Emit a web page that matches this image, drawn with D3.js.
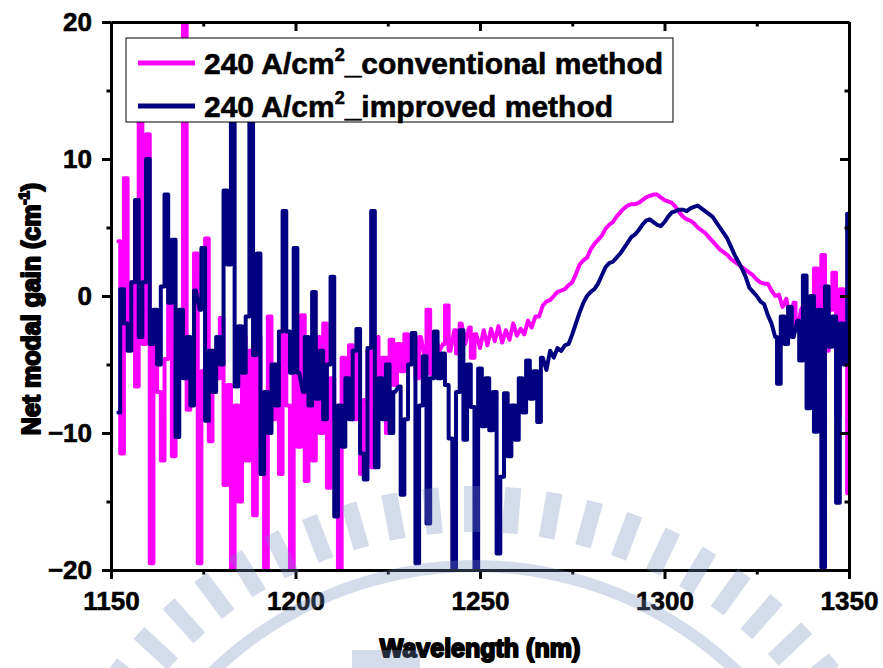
<!doctype html>
<html lang="en">
<head>
<meta charset="utf-8">
<script src="https://d3js.org/d3.v7.min.js"></script>
<title>Net modal gain</title>
<style>
    body { margin: 0; background: white; }
    svg { display: block; font-family: "Liberation Sans", Arial, sans-serif; font-weight: bold; }
</style>
</head>
<body>
<svg id="svg" width="883" height="668"></svg>
<script>
    // wavelength grid starts here, 1 nm step
    const startWl = 1152;

    // 240 A/cm2, conventional method
    const conventional = [
        4, -11.5, 8.6, -3, 1, -6.6, 16, -3.5, 11.8, -19.5,          // 1152-1161
        -3.5, -7, -12, -4.6, 0.9, -11.7, -3.5, -5, 20, -8.3,         // 1162-1171
        -4, 3.1, -19.5, -5.5, 4.2, -10.6, -4, -6, -1.6, -13.8,       // 1172-1181
        -6.5, -20, -8, -15, -3, -12, -4, -16, -3, -11,               // 1182-1191
        -20, -1.5, -9, -5, -13, -2.8, -8, -20, -4, -11,              // 1192-1201
        -1.4, -13.5, -6, -12, -3, -10, -2, -14, -6, -9,              // 1202-1211
        -20, -4.5, -7.5, -3.6, -9, -4, -13, -7.6, -4, -12.5,         // 1212-1221
        -3, -8, -4.5, -10, -3.2, -6.5, -3.5, -5.5, -2.8, -4.8,       // 1222-1231
        -3.5, -6, -3, -4.5, -1, -5.7, -3, -4, -3.5, -0.7,            // 1232-1241
        -4, -2.5, -4.2, -2, -3.5, -2.3, -4.5, -2.8, -3.8, -2.5,      // 1242-1251
        -3.6, -2.4, -3.3, -2.2, -3.4, -2.5, -3.2, -2, -2.9, -2.4,    // 1252-1261
        -2.8, -1.8, -2.3, -1.5, -1.5, -0.7, -0.4, -0.3, 0, 0.3,      // 1262-1271
        0.4, 0.5, 0.8, 1.0, 1.6, 2.3, 2.6, 2.8, 3.4, 3.8,            // 1272-1281
        4.1, 4.4, 4.9, 5.2, 5.4, 5.8, 6.1, 6.4, 6.6, 6.7,            // 1282-1291
        6.7, 6.8, 7.0, 7.2, 7.3, 7.4, 7.4, 7.2, 7.0, 6.9,            // 1292-1301
        6.8, 6.5, 6.1, 5.8, 5.6, 5.5, 5.3, 5.0, 4.8, 4.6,            // 1302-1311
        4.3, 4.0, 3.7, 3.4, 3.2, 3.0, 2.7, 2.5, 2.3, 2.1,            // 1312-1321
        1.9, 1.7, 1.5, 1.2, 1.0, 0.9, 0.9, 0.4, 0.0, 0.1,            // 1322-1331
        -0.8, -0.2, -1.5, -0.5, -2.5, -1, -0.5, -3, -1.5, 2,         // 1332-1341
        -3.5, 3, -4, -1, 1.7, -8.8, 0.5, -4, -14.4                   // 1342-1350
    ];

    // 240 A/cm2, improved method
    const improved = [
        -8.5, 0.5, -2, -4, 1, 7, -3, 1, 10, -3.5,                    // 1152-1161
        -1, -5, 0.7, 7.4, -0.5, 4.1, -10.3, -1, -6, -3,              // 1162-1171
        -8, 0.4, -1, 3.5, -9.1, -4, -7, -3, -5, 7.7,                 // 1172-1181
        2.3, 15, -6.6, -2.2, -5.6, -1.5, 15, -4.3, 3.1, -13,         // 1182-1191
        -7, -10, -5, -8, -2.6, 6.2, -2.6, -5.6, 3.5, -5.6,           // 1192-1201
        -7, -3, -8, 0.3, -7.5, -4, -9, -5, 1.4, -16.1,               // 1202-1211
        -8, -11, -6, -9, -4, -2.4, -11.5, -13.4, -3.8, 6.2,          // 1212-1221
        -12.5, -6, -9, -5, -10, -7, -6.6, -14.5, -9, -5,             // 1222-1231
        -2.7, -19.5, -8, -4.4, -16.6, -6, -2.6, -6, -4.2, -6.5,      // 1232-1241
        -10.4, -20, -7, -2.5, -10.5, -5, -8.1, -20, -5.3, -9.5,      // 1242-1251
        -6, -9.8, -7, -18.8, -13.2, -7.1, -11.7, -8, -10.5, -6,      // 1252-1261
        -8.5, -4.7, -7.5, -5.5, -9.2, -4.5, -5.4, -4, -4.5, -3.8,    // 1262-1271
        -4, -3.6, -3.5, -2.8, -2, -1.2, -0.5, 0, 0.3, 0.5,           // 1272-1281
        0.9, 1.5, 2.1, 2.4, 2.5, 2.8, 3.1, 3.5, 3.9, 4.3,            // 1282-1291
        4.5, 4.8, 5.2, 5.5, 5.6, 5.4, 5.2, 5.1, 5.4, 5.8,            // 1292-1301
        6.1, 6.2, 6.3, 6.3, 6.2, 6.4, 6.5, 6.6, 6.4, 6.2,            // 1302-1311
        6.0, 5.8, 5.4, 5.0, 4.6, 4.2, 3.6, 3.0, 2.5, 2.0,            // 1312-1321
        1.4, 0.6, 0.3, 0.0, -0.4, -0.6, -1.4, -2.0, -3.0, -6.4,      // 1322-1331
        -1.5, -3.5, -0.8, -3, -1.8, -4.7, 1.5, -8.2, 0, -9.9,        // 1332-1341
        -1, -19.8, 0.7, -3.7, -1.5, -15.1, -2, -5, 6                 // 1342-1350
    ];

    const seriesNames = ["240 A/cm", "240 A/cm"];
    const seriesSuffix = ["_conventional method", "_improved method"];
    const seriesColors = ["#ff00ff", "#000080"];

    const xMajor = [1150, 1200, 1250, 1300, 1350];
    const xMinor = [1175, 1225, 1275, 1325];
    const yMajor = [-20, -10, 0, 10, 20];
    const yMinor = [-15, -5, 5, 15];

    const margin = { left: 111, top: 22, right: 849, bottom: 570 };

    const svg = d3.select("#svg");

    const xScale = d3.scaleLinear().domain([1150, 1350]).range([margin.left, margin.right]);
    const yScale = d3.scaleLinear().domain([-20, 20]).range([margin.bottom, margin.top]);

    svg.append("clipPath").attr("id", "plot-clip")
        .append("rect")
        .attr("x", margin.left).attr("y", margin.top)
        .attr("width", margin.right - margin.left)
        .attr("height", margin.bottom - margin.top);

    // big jumps are drawn as upright steps (like the measured trace), small ones stay linear
    function toPoints(arr) {
        const pts = [];
        arr.forEach((v, i) => {
            const wl = startWl + i;
            pts.push([wl, v]);
            if (i < arr.length - 1 && Math.abs(arr[i + 1] - v) > 1.5) {
                pts.push([wl + 0.5, v], [wl + 0.5, arr[i + 1]]);
            }
        });
        return pts;
    }
    const line = d3.line().x(d => xScale(d[0])).y(d => yScale(d[1]));

    const plot = svg.append("g").attr("clip-path", "url(#plot-clip)");
    [conventional, improved].forEach((s, i) => {
        plot.append("path")
            .datum(toPoints(s))
            .attr("d", line)
            .attr("fill", "none")
            .attr("stroke", seriesColors[i])
            .attr("stroke-width", 4)
            .attr("stroke-linejoin", "round")
            .attr("stroke-linecap", "round");
    });

    // axes: major + minor, outer ticks on left/bottom, inner ticks on top/right
    function drawAxis(axisFn, scale, transform, major, minor, size, labels) {
        const g = svg.append("g").attr("transform", transform);
        g.call(axisFn(scale).tickValues(major).tickSize(size).tickSizeOuter(0)
            .tickPadding(axisFn === d3.axisLeft ? 10 : 13)
            .tickFormat(labels ? d3.format("d") : ""));
        g.append("g").call(axisFn(scale).tickValues(minor).tickSize(size / 2).tickSizeOuter(0).tickFormat(""))
            .select(".domain").remove();
        g.selectAll("line").attr("stroke", "black").attr("stroke-width", 3);
        g.select(".domain").attr("stroke", "black").attr("stroke-width", 3);
        g.selectAll("text")
            .attr("font-size", 26)
            .attr("font-weight", "bold")
            .attr("font-family", "'Liberation Sans', Arial, sans-serif")
            .attr("fill", "black")
            .attr("stroke", "black").attr("stroke-width", 0.6);
        return g;
    }

    drawAxis(d3.axisBottom, xScale, `translate(0,${margin.bottom})`, xMajor, xMinor, 9, true);
    drawAxis(d3.axisTop, xScale, `translate(0,${margin.top})`, xMajor, xMinor, -9, false);
    drawAxis(d3.axisLeft, yScale, `translate(${margin.left},0)`, yMajor, yMinor, 9, true);
    drawAxis(d3.axisRight, yScale, `translate(${margin.right},0)`, yMajor, yMinor, -9, false);

    // axis titles
    svg.append("text")
        .attr("x", 480).attr("y", 657)
        .attr("text-anchor", "middle")
        .attr("font-size", 25)
        .attr("stroke", "black").attr("stroke-width", 2).attr("stroke-linejoin", "round")
        .text("Wavelength (nm)");

    const yTitle = svg.append("text")
        .attr("transform", "translate(40,309) rotate(-90)")
        .attr("text-anchor", "middle")
        .attr("font-size", 25)
        .attr("stroke", "black").attr("stroke-width", 2).attr("stroke-linejoin", "round");
    yTitle.append("tspan").text("Net modal gain (cm");
    yTitle.append("tspan").attr("font-size", 15).attr("dy", -11).text("-1");
    yTitle.append("tspan").attr("dy", 11).text(")");

    // legend
    const legend = svg.append("g");
    legend.append("rect")
        .attr("x", 126).attr("y", 38).attr("width", 547).attr("height", 84)
        .attr("fill", "white").attr("stroke", "black").attr("stroke-width", 1);
    seriesNames.forEach((name, i) => {
        const cy = 63 + i * 43;
        legend.append("line")
            .attr("x1", 138).attr("x2", 195).attr("y1", cy).attr("y2", cy)
            .attr("stroke", seriesColors[i]).attr("stroke-width", 5);
        const t = legend.append("text")
            .attr("x", 204).attr("y", cy + 11)
            .attr("font-size", 30)
            .attr("stroke", "black").attr("stroke-width", 0.6);
        t.append("tspan").text(name);
        t.append("tspan").attr("font-size", 18).attr("dy", -13).text("2");
        t.append("tspan").attr("dy", 13).text(seriesSuffix[i]);
    });

    // faint watermark seal drawn over the chart
    const wm = svg.append("g").attr("fill", "rgb(115,140,190)").attr("opacity", 0.3);
    const wcx = 475, wcy = 944;
    d3.range(-158, -20, 5.2).forEach(a => {
        wm.append("rect")
            .attr("x", 412).attr("y", -8).attr("width", 46).attr("height", 16)
            .attr("transform", `translate(${wcx},${wcy}) rotate(${a})`);
    });
    wm.append("path")
        .attr("transform", `translate(${wcx},${wcy})`)
        .attr("d", d3.arc().innerRadius(372).outerRadius(384).startAngle(-Math.PI * 0.5).endAngle(Math.PI * 0.5)());
    wm.append("rect").attr("x", 352).attr("y", 650).attr("width", 68).attr("height", 18);
</script>
</body>
</html>
